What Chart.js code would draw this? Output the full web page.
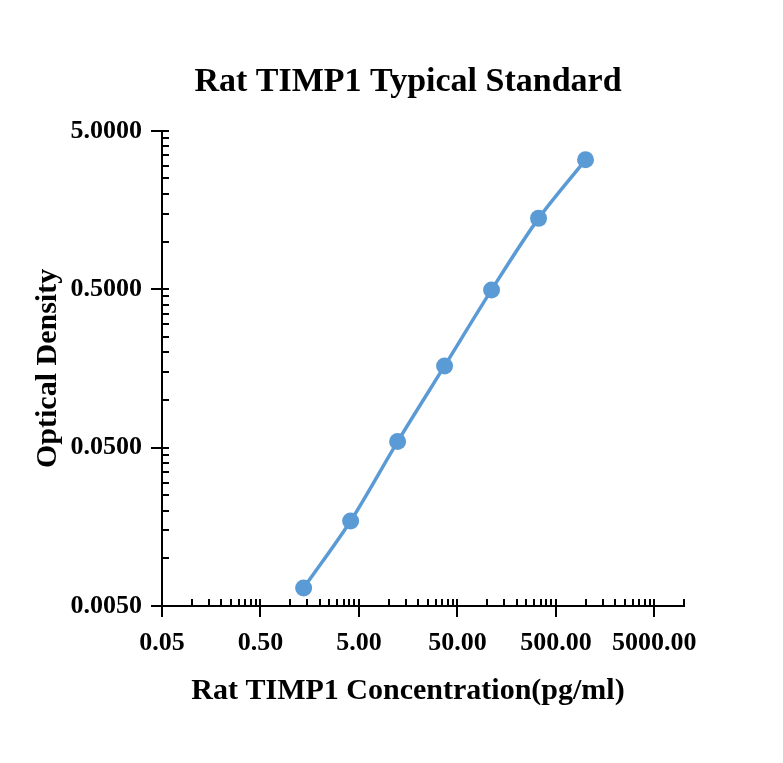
<!DOCTYPE html>
<html>
<head>
<meta charset="utf-8">
<script src="https://cdn.jsdelivr.net/npm/chart.js@4/dist/chart.umd.min.js"></script>
<style>
  body { margin: 0; background: #fff; }
  canvas { display: block; }
</style>
</head>
<body>
<canvas id="stdChart" width="783" height="763"></canvas>
<script>
// ── DATA
const concentrations = [1.372, 4.115, 12.35, 37.04, 111.1, 333.3, 1000];
const opticalDensity = [0.0065, 0.0172, 0.0546, 0.164, 0.495, 1.40, 3.28];

const xMajor = [0.05, 0.5, 5, 50, 500, 5000];
const xTickLabels = ["0.05", "0.50", "5.00", "50.00", "500.00", "5000.00"];
const yMajor = [0.005, 0.05, 0.5, 5];
const yTickLabels = ["0.0050", "0.0500", "0.5000", "5.0000"];
const minorSteps = [2, 3, 4, 5, 6, 7, 8, 9];

const X_MIN = 0.05, X_MAX = 10000;
const Y_MIN = 0.005, Y_MAX = 5;

// major ticks + linear minor ticks inside each decade
function buildTicks(majors, min, max) {
  const ticks = [];
  majors.forEach((m) => {
    ticks.push({ value: m, isMajor: true });
    minorSteps.forEach((n) => {
      const v = m * n;
      if (v <= max * 1.0001) ticks.push({ value: v, isMajor: false });
    });
  });
  return ticks.filter((t) => t.value >= min * 0.9999);
}

Chart.defaults.font.family = "'Liberation Serif', 'Times New Roman', serif";
Chart.defaults.color = "#000";

// ── TICK MARKS (major cross the axis, minor point inward)
const axisTicks = {
  id: "axisTicks",
  afterDraw(chart) {
    const { ctx } = chart;
    const xs = chart.scales.x;
    const ys = chart.scales.y;
    ctx.save();
    ctx.strokeStyle = "#000";
    ctx.lineWidth = 2;
    ctx.beginPath();
    xs.ticks.forEach((t) => {
      const px = Math.round(xs.getPixelForValue(t.value));
      const base = xs.top;
      ctx.moveTo(px, base - 7);
      ctx.lineTo(px, t.isMajor ? base + 11 : base);
    });
    ys.ticks.forEach((t) => {
      const py = Math.round(ys.getPixelForValue(t.value));
      const base = ys.right;
      ctx.moveTo(base + 7, py);
      ctx.lineTo(t.isMajor ? base - 11 : base, py);
    });
    ctx.stroke();
    ctx.restore();
  },
};

new Chart(document.getElementById("stdChart"), {
  type: "line",
  data: {
    datasets: [{
      data: concentrations.map((c, i) => ({ x: c, y: opticalDensity[i] })),
      borderColor: "#5b9bd5",
      backgroundColor: "#5b9bd5",
      borderWidth: 3.5,
      pointRadius: 8.5,
      pointBorderWidth: 0,
      pointBackgroundColor: "#5b9bd5",
      tension: 0.3,
      fill: false,
    }],
  },
  options: {
    responsive: false,
    devicePixelRatio: 1,
    animation: false,
    layout: { padding: { left: 33, right: 0, top: 0, bottom: 0 } },
    plugins: {
      legend: { display: false },
      tooltip: { enabled: false },
      title: {
        display: true,
        text: "Rat TIMP1 Typical Standard",
        font: { size: 34, weight: "bold" },
        padding: { top: 62, bottom: 28 },
      },
      subtitle: {
        display: true,
        position: "bottom",
        text: "Rat TIMP1 Concentration(pg/ml)",
        color: "#000",
        font: { size: 30, weight: "bold" },
        padding: { top: 11, bottom: 54 },
      },
    },
    scales: {
      x: {
        type: "logarithmic",
        position: "bottom",
        min: X_MIN,
        max: X_MAX,
        afterBuildTicks: (s) => { s.ticks = buildTicks(xMajor, X_MIN, X_MAX); },
        afterFit: (s) => { s.height = 56; },
        grid: { display: true, drawOnChartArea: false, drawTicks: false },
        border: { display: true, color: "#000", width: 2 },
        ticks: {
          autoSkip: false,
          maxRotation: 0,
          minRotation: 0,
          padding: 22,
          font: { size: 26, weight: "bold" },
          callback: (v) => {
            const i = xMajor.indexOf(v);
            return i >= 0 ? xTickLabels[i] : "";
          },
        },
      },
      y: {
        type: "logarithmic",
        position: "left",
        min: Y_MIN,
        max: Y_MAX,
        afterBuildTicks: (s) => { s.ticks = buildTicks(yMajor, Y_MIN, Y_MAX); },
        afterFit: (s) => { s.width = 129; },
        grid: { display: true, drawOnChartArea: false, drawTicks: false },
        border: { display: true, color: "#000", width: 2 },
        title: {
          display: true,
          text: "Optical Density",
          font: { size: 30, weight: "bold", lineHeight: 1 },
          padding: 0,
        },
        ticks: {
          autoSkip: false,
          padding: 20,
          font: { size: 26, weight: "bold" },
          callback: (v) => {
            const i = yMajor.indexOf(v);
            return i >= 0 ? yTickLabels[i] : "";
          },
        },
      },
      spacer: {
        type: "linear",
        position: "right",
        display: true,
        grid: { display: false },
        border: { display: false },
        ticks: { display: false },
        afterFit: (s) => { s.width = 99; },
      },
    },
  },
  plugins: [axisTicks],
});
</script>
</body>
</html>
